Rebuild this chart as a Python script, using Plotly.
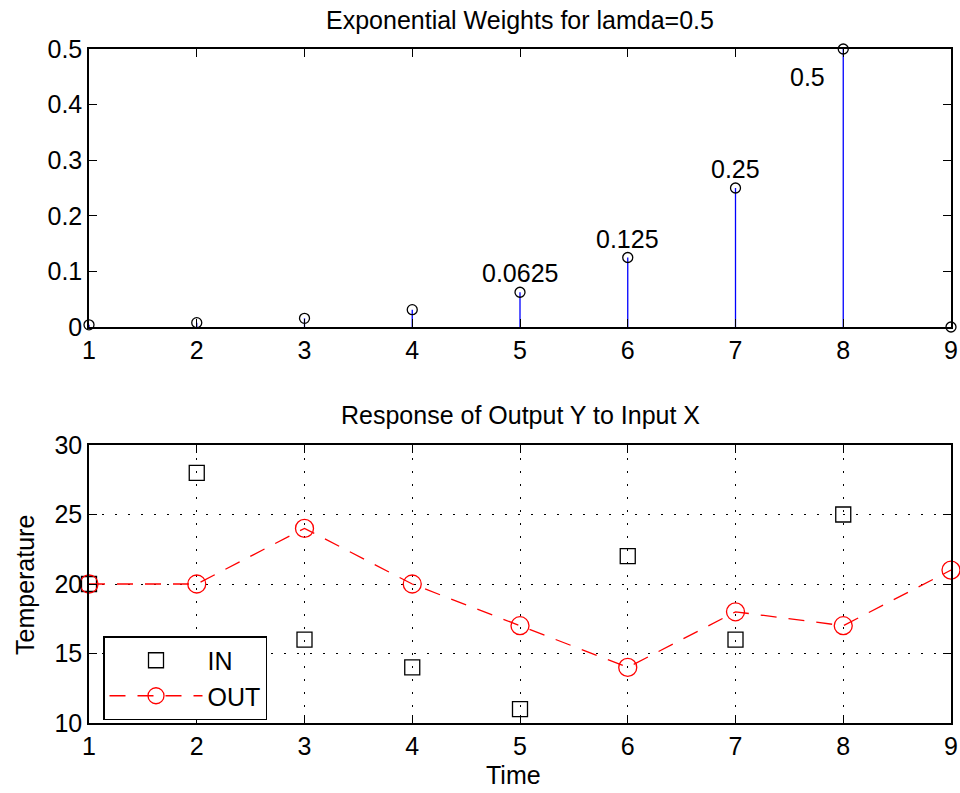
import plotly.graph_objects as go

# ---- data ----
lags = [1, 2, 3, 4, 5, 6, 7, 8, 9]
weights = [0.00390625, 0.0078125, 0.015625, 0.03125, 0.0625, 0.125, 0.25, 0.5, 0.0]
label_x = [5, 6, 7, 8]
label_val = [0.0625, 0.125, 0.25, 0.5]
label_txt = ["0.0625", "0.125", "0.25", "0.5"]

time = [1, 2, 3, 4, 5, 6, 7, 8, 9]
x_in = [20, 28, 16, 14, 11, 22, 16, 25]
y_out = [20, 20, 24, 20, 17, 14, 18, 17, 21]

top_xticks = [1, 2, 3, 4, 5, 6, 7, 8, 9]
top_yticks = [0, 0.1, 0.2, 0.3, 0.4, 0.5]
bot_yticks = [10, 15, 20, 25, 30]

FONT = "Liberation Sans, Arial, Helvetica, sans-serif"
FS = 25
W, H = 960, 793

# stems built from data
sx, sy = [], []
for x, v in zip(lags, weights):
    sx += [x, x, None]
    sy += [0, v, None]

fig = go.Figure()
fig.add_trace(go.Scatter(x=sx, y=sy, mode="lines", line=dict(color="blue", width=1.3),
                         xaxis="x", yaxis="y", showlegend=False, hoverinfo="skip"))
fig.add_trace(go.Scatter(x=lags, y=weights, mode="markers",
                         marker=dict(symbol="circle-open", color="black", size=10, line=dict(width=1.3)),
                         xaxis="x", yaxis="y", showlegend=False, cliponaxis=False))

fig.add_trace(go.Scatter(x=time[:len(x_in)], y=x_in, mode="markers", name="IN",
                         marker=dict(symbol="square-open", color="black", size=15, line=dict(width=1.3)),
                         xaxis="x2", yaxis="y2", cliponaxis=False))
fig.add_trace(go.Scatter(x=time, y=y_out, mode="lines+markers", name="OUT",
                         line=dict(color="red", width=1.3, dash="16px,12px"),
                         marker=dict(symbol="circle-open", color="red", size=18, line=dict(width=1.3)),
                         xaxis="x2", yaxis="y2", cliponaxis=False))

xl, xr = 89 / W, 951 / W
top_dom = [1 - 327 / H, 1 - 49 / H]
bot_dom = [1 - 723 / H, 1 - 445 / H]

axis_common = dict(showline=True, linecolor="black", linewidth=1.5, mirror="allticks",
                   ticks="inside", ticklen=8, tickcolor="black", tickwidth=1,
                   zeroline=False, automargin=False,
                   tickfont=dict(family=FONT, size=FS, color="black"))

annotations = []
for x, v, t in zip(label_x, label_val, label_txt):
    dx = -0.33 if t == "0.5" else 0.0
    dy = -0.05 if t == "0.5" else 0.034
    annotations.append(dict(x=x + dx, y=v + dy, xref="x", yref="y", text=t, showarrow=False,
                            xanchor="center", yanchor="middle",
                            font=dict(family=FONT, size=FS, color="black")))
annotations += [
    dict(x=(xl + xr) / 2, y=1 - 20 / H, xref="paper", yref="paper", showarrow=False,
         text="Exponential Weights for lamda=0.5", xanchor="center", yanchor="middle",
         font=dict(family=FONT, size=25, color="black")),
    dict(x=(xl + xr) / 2, y=1 - 415 / H, xref="paper", yref="paper", showarrow=False,
         text="Response of Output Y to Input X", xanchor="center", yanchor="middle",
         font=dict(family=FONT, size=25, color="black")),
    dict(x=513 / W, y=1 - 775 / H, xref="paper", yref="paper", showarrow=False,
         text="Time", xanchor="center", yanchor="middle",
         font=dict(family=FONT, size=FS, color="black")),
    dict(x=25 / W, y=1 - 585 / H, xref="paper", yref="paper", showarrow=False,
         text="Temperature", textangle=-90, xanchor="center", yanchor="middle",
         font=dict(family=FONT, size=FS, color="black")),
]

grid = dict(showgrid=True, gridcolor="black", griddash="2px,11px", gridwidth=1)

fig.update_layout(
    width=W, height=H,
    margin=dict(l=0, r=0, t=0, b=0, autoexpand=False),
    paper_bgcolor="white", plot_bgcolor="white",
    font=dict(family=FONT, size=FS, color="black"),
    xaxis=dict(domain=[xl, xr], anchor="y", range=[1, 9], tickvals=top_xticks,
               showgrid=False, **axis_common),
    yaxis=dict(domain=top_dom, anchor="x", range=[0, 0.5], tickvals=top_yticks,
               ticktext=[f"{v:g}" for v in top_yticks], showgrid=False, **axis_common),
    xaxis2=dict(domain=[xl, xr], anchor="y2", range=[1, 9], tickvals=top_xticks,
                **grid, **axis_common),
    yaxis2=dict(domain=bot_dom, anchor="x2", range=[10, 30], tickvals=bot_yticks,
                **grid, **axis_common),
    legend=dict(x=103 / W, y=1 - 636 / H, xanchor="left", yanchor="top",
                bgcolor="white", bordercolor="black", borderwidth=1.5,
                font=dict(family=FONT, size=FS, color="black"), itemwidth=93,
                tracegroupgap=0),
    annotations=annotations,
    showlegend=True,
)

fig.write_html("out.html", config={"displayModeBar": False},
               post_script="document.body.style.margin='0';document.body.style.padding='0';document.body.style.overflow='hidden';")
